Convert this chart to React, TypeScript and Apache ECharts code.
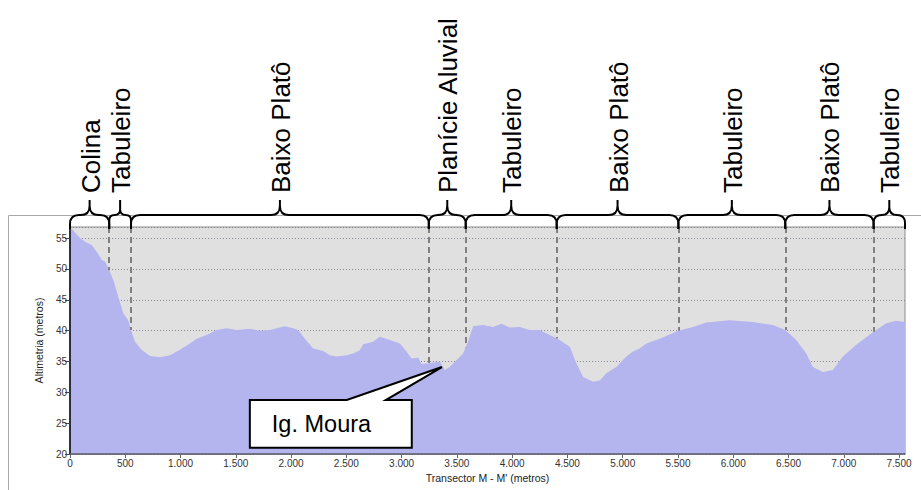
import React, { useEffect, useRef } from 'react';
import * as echarts from 'echarts';

// Profile: distance along transect (m) and altitude (m)
const distance = [
  0, 90, 136, 196, 241, 286, 316, 355, 392, 437, 482, 527, 552, 588, 648, 723, 814, 904, 995,
  1085, 1146, 1236, 1326, 1417, 1507, 1627, 1718, 1808, 1899, 1944, 2019, 2064, 2125, 2200,
  2290, 2351, 2411, 2502, 2562, 2622, 2652, 2742, 2803, 2893, 2984, 3044, 3089, 3150, 3180,
  3246, 3345, 3391, 3436, 3496, 3556, 3601, 3647, 3737, 3827, 3903, 3978, 4069, 4159, 4250,
  4340, 4430, 4521, 4581, 4642, 4732, 4792, 4852, 4943, 5033, 5093, 5154, 5214, 5335, 5504,
  5636, 5757, 5967, 6178, 6359, 6471, 6570, 6661, 6721, 6811, 6902, 6992, 7113, 7270, 7385,
  7475, 7554,
];
const altitude = [
  56.8, 55.0, 54.4, 53.9, 52.8, 51.5, 51.2, 49.8, 48.2, 45.5, 42.8, 41.7, 40.1, 38.2, 36.9, 35.9, 35.7, 36.0, 36.9,
  37.9, 38.7, 39.3, 40.1, 40.4, 40.1, 40.3, 40.0, 40.1, 40.5, 40.7, 40.4, 40.1, 38.7, 37.1,
  36.7, 36.0, 35.8, 36.0, 36.3, 36.8, 37.8, 38.2, 39.0, 38.5, 37.9, 36.6, 35.5, 35.6, 34.6,
  34.7, 35.0, 33.6, 34.1, 35.2, 36.3, 38.2, 40.7, 40.9, 40.6, 41.1, 40.5, 40.6, 40.1, 40.1,
  39.3, 38.5, 37.4, 34.7, 32.5, 31.7, 31.9, 33.1, 34.1, 35.8, 36.6, 37.1, 37.9, 38.7, 40.0,
  40.6, 41.3, 41.7, 41.4, 40.9, 40.1, 38.5, 36.3, 34.1, 33.3, 33.6, 35.8, 37.7, 39.8, 41.2,
  41.6, 41.4,
];

// Landform unit boundaries (m) and labels
const boundaries = [355, 552, 3246, 3580, 4403, 5504, 6471, 7270];
const unitLabels = [
  'Colina', 'Tabuleiro', 'Baixo Platô', 'Planície Aluvial', 'Tabuleiro',
  'Baixo Platô', 'Tabuleiro', 'Baixo Platô', 'Tabuleiro',
];

// Axis settings
const xMin = 0;
const xMax = 7554;
const xInterval = 500;
const yMin = 20;
const yMax = 56.8;
const yInterval = 5;

// Callout annotation (data coordinates)
const calloutText = 'Ig. Moura';
const calloutTip = [3365, 34.1];
const calloutBox = { x0: 1627, x1: 3092, yTop: 28.75, yBottom: 21.0 };
const calloutBase = [2504, 2857];

const FONT = '"Liberation Sans", Arial, sans-serif';

function interp(x: number): number {
  for (let i = 1; i < distance.length; i++) {
    if (x <= distance[i]) {
      const t = (x - distance[i - 1]) / (distance[i] - distance[i - 1]);
      return altitude[i - 1] + t * (altitude[i] - altitude[i - 1]);
    }
  }
  return altitude[altitude.length - 1];
}

function fmtThousands(v: number): string {
  const n = Math.round(v);
  if (n < 1000) return String(n);
  return `${Math.floor(n / 1000)}.${String(n % 1000).padStart(3, '0')}`;
}

const Brace = (echarts.graphic as any).extendShape({
  type: 'brace',
  shape: { x0: 0, x1: 0, yb: 0, yh: 0, yt: 0 },
  buildPath(ctx: any, s: any) {
    const { x0, x1, yb, yh, yt } = s;
    const xm = (x0 + x1) / 2;
    const r = Math.min(9, (x1 - x0) / 4);
    ctx.moveTo(x0, yb);
    ctx.lineTo(x0, yh + r);
    ctx.quadraticCurveTo(x0, yh, x0 + r, yh);
    ctx.lineTo(xm - r, yh);
    ctx.quadraticCurveTo(xm, yh, xm, yh - r);
    ctx.lineTo(xm, yt);
    ctx.moveTo(xm, yh - r);
    ctx.quadraticCurveTo(xm, yh, xm + r, yh);
    ctx.lineTo(x1 - r, yh);
    ctx.quadraticCurveTo(x1, yh, x1, yh + r);
    ctx.lineTo(x1, yb);
  },
});
echarts.graphic.registerShape('brace', Brace);

export default function App() {
  const ref = useRef<HTMLDivElement>(null);

  useEffect(() => {
    document.body.style.margin = '0';
    if (!ref.current) return;
    const chart = echarts.init(ref.current, undefined, { renderer: 'svg' });

    const data = distance.map((d, i) => [d, altitude[i]]);

    chart.setOption({
      animation: false,
      backgroundColor: '#ffffff',
      textStyle: { fontFamily: FONT },
      grid: {
        left: 70,
        top: 227,
        right: 16,
        bottom: 36,
        show: true,
        backgroundColor: '#e0e0e0',
        borderColor: '#8c8c8c',
        borderWidth: 1,
      },
      xAxis: {
        type: 'value',
        min: xMin,
        max: xMax,
        interval: xInterval,
        z: 3,
        name: "Transector M - M' (metros)",
        nameLocation: 'middle',
        nameGap: 18,
        nameTextStyle: { fontSize: 10.5, color: '#222', fontFamily: FONT },
        axisLine: { show: true, lineStyle: { color: '#5a5a6a', width: 1.5 } },
        axisTick: { show: true, length: 4, lineStyle: { color: '#666' } },
        axisLabel: {
          fontSize: 10,
          color: '#333',
          margin: 4,
          fontFamily: FONT,
          showMaxLabel: false,
          formatter: (v: number) => fmtThousands(v),
        },
        splitLine: { show: false },
      },
      yAxis: {
        type: 'value',
        min: yMin,
        max: yMax,
        interval: yInterval,
        z: 3,
        name: 'Altimetria (metros)',
        nameLocation: 'middle',
        nameGap: 26,
        nameTextStyle: { fontSize: 10.5, color: '#222', fontFamily: FONT },
        axisLine: { show: true, lineStyle: { color: '#000', width: 1.5 } },
        axisTick: { show: true, length: 5, lineStyle: { color: '#444' } },
        axisLabel: {
          fontSize: 10,
          color: '#333',
          margin: 3,
          fontFamily: FONT,
          showMaxLabel: false,
        },
        splitLine: {
          show: true,
          lineStyle: { color: '#8a8a96', width: 1, type: [1, 2] },
        },
      },
      series: [
        {
          type: 'line',
          data,
          showSymbol: false,
          symbol: 'none',
          lineStyle: { width: 0 },
          areaStyle: { color: '#b4b4ee', opacity: 1, origin: 'start' },
          markLine: {
            silent: true,
            symbol: 'none',
            label: { show: false },
            lineStyle: { type: [6, 4], color: '#808080', width: 2 },
            data: boundaries.map((b) => [
              { coord: [b, yMax] },
              { coord: [b, interp(b)] },
            ]),
          },
        },
      ],
    });

    const px = (x: number, y: number) =>
      chart.convertToPixel({ gridIndex: 0 }, [x, y]) as number[];

    const topY = px(0, yMax)[1];
    const edges = [xMin, ...boundaries, xMax];
    const graphics: any[] = [];

    // chart area border
    graphics.push({
      type: 'rect',
      z: 0,
      shape: { x: 8.5, y: 215.5, width: 1000, height: 400 },
      style: { fill: 'none', stroke: '#a8a8a8', lineWidth: 1 },
      silent: true,
    });

    for (let i = 0; i < unitLabels.length; i++) {
      const x0 = px(edges[i], yMax)[0];
      const x1 = px(edges[i + 1], yMax)[0];
      const xm = (x0 + x1) / 2;
      graphics.push({
        type: 'brace',
        z: 10,
        shape: { x0, x1, yb: topY + 2, yh: topY - 12, yt: topY - 27 },
        style: { fill: 'none', stroke: '#000', lineWidth: 2 },
        silent: true,
      });
      graphics.push({
        type: 'text',
        z: 10,
        x: xm + 1,
        y: topY - 34,
        rotation: Math.PI / 2,
        style: {
          text: unitLabels[i],
          fontSize: 26,
          fontFamily: FONT,
          fill: '#000',
          align: 'left',
          verticalAlign: 'middle',
        },
        silent: true,
      });
    }

    // callout
    const tip = px(calloutTip[0], calloutTip[1]);
    const bl = px(calloutBox.x0, calloutBox.yBottom);
    const tr = px(calloutBox.x1, calloutBox.yTop);
    const b0 = px(calloutBase[0], calloutBox.yTop)[0];
    const b1 = px(calloutBase[1], calloutBox.yTop)[0];
    graphics.push({
      type: 'polygon',
      z: 10,
      shape: {
        points: [
          [bl[0], tr[1]],
          [b0, tr[1]],
          [tip[0], tip[1]],
          [b1, tr[1]],
          [tr[0], tr[1]],
          [tr[0], bl[1]],
          [bl[0], bl[1]],
        ],
      },
      style: { fill: '#ffffff', stroke: '#000', lineWidth: 2 },
      silent: true,
    });
    graphics.push({
      type: 'text',
      z: 11,
      x: bl[0] + 22,
      y: (tr[1] + bl[1]) / 2,
      style: {
        text: calloutText,
        fontSize: 23.5,
        fontFamily: FONT,
        fill: '#000',
        align: 'left',
        verticalAlign: 'middle',
      },
      silent: true,
    });

    chart.setOption({ graphic: graphics });

    return () => chart.dispose();
  }, []);

  return <div ref={ref} style={{ width: 921, height: 490 }} />;
}
